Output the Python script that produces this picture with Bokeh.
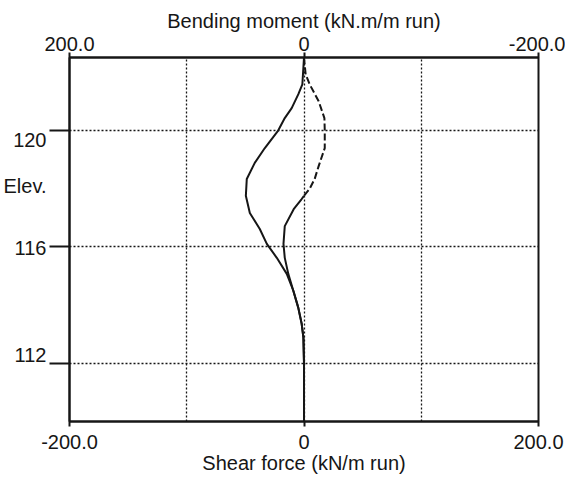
from bokeh.plotting import figure
from bokeh.models import Range1d, LinearAxis, FixedTicker
from bokeh.embed import file_html
from bokeh.resources import INLINE

# Bending moment along the wall (kN.m/m run) against elevation (m)
bm_elev = [122.5, 121.58, 121.24, 120.76, 120.42, 120.0, 119.39, 118.88, 118.33,
           117.75, 117.16, 116.61, 116.10, 115.62, 115.07, 114.49, 113.91, 113.36,
           112.88, 112.0, 110.0]
bm_vals = [0.0, 1.4, 4.8, 10.5, 16.4, 21.9, 33.4, 42.0, 48.8,
           49.6, 46.2, 37.7, 31.7, 23.2, 14.7, 9.1, 4.9, 2.0,
           0.5, 0.0, 0.0]

# Shear force along the wall (kN/m run) against elevation (m)
sf_elev = [122.5, 121.92, 121.58, 121.0, 120.42, 120.0, 119.39, 118.77, 118.33,
           117.99, 117.75, 117.64, 117.29, 116.71, 116.10, 115.62, 115.07, 114.49,
           113.91, 113.36, 112.88, 112.0, 110.0]
sf_vals = [0.0, 1.4, 4.8, 12.5, 17.4, 17.7, 17.7, 12.5, 9.1,
           4.8, 0.0, -2.0, -8.8, -16.4, -17.5, -16.4, -13.4, -9.1,
           -4.9, -2.0, -0.5, 0.0, 0.0]

sf_ticks = [-200, 0, 200]
sf_tick_labels = {-200: "-200.0", 0: "0", 200: "200.0"}
bm_ticks = [200, 0, -200]
bm_tick_labels = {200: "200.0", 0: "0", -200: "-200.0"}
elev_ticks = [120, 116, 112]
elev_title = "Elev."
elev_title_at = 118.1
grid_ticks = [-100, 0, 100]

FONT = "Liberation Sans"
FSIZE = "20px"
INK = "#161616"

Y0, Y1 = 110, 122.5
FRAME_H = 479 - 57 - 58

p = figure(width=565, height=479,
           x_range=Range1d(-200, 200), y_range=Range1d(Y0, Y1),
           output_backend="svg", toolbar_location=None,
           min_border_left=68, min_border_right=27,
           min_border_top=57, min_border_bottom=58)
p.background_fill_color = "white"
p.border_fill_color = "white"
p.outline_line_color = INK
p.outline_line_width = 2

# reversed range for the bending moment scale on top
p.extra_x_ranges = {"bm": Range1d(200, -200)}

# bottom axis: shear force
bottom = p.below[0]
bottom.ticker = FixedTicker(ticks=sf_ticks)
bottom.major_label_overrides = sf_tick_labels
bottom.axis_label = "Shear force (kN/m run)"

# top axis: bending moment
top = LinearAxis(x_range_name="bm", ticker=FixedTicker(ticks=bm_ticks),
                 major_label_overrides=bm_tick_labels,
                 axis_label="Bending moment (kN.m/m run)")
p.add_layout(top, "above")

# left axis: the tick marks are the minor ticks; labels sit on the major
# ticks, nudged a few pixels (positive = down) the way they are drawn
label_nudge_px = {120: 10, 116: 1, 112: -8}
m_per_px = (Y1 - Y0) / FRAME_H
label_pos = [t - label_nudge_px[t] * m_per_px for t in elev_ticks]
left = p.left[0]
left.ticker = FixedTicker(ticks=label_pos + [elev_title_at], minor_ticks=elev_ticks)
left.major_label_overrides = {pos: str(t) for pos, t in zip(label_pos, elev_ticks)}
left.major_label_overrides[elev_title_at] = elev_title
left.major_tick_line_color = None
left.major_tick_out = 0
left.major_tick_in = 0
left.minor_tick_out = 20
left.minor_tick_in = 0
left.minor_tick_line_color = INK
left.minor_tick_line_width = 2
left.major_label_standoff = 3
left.major_label_text_font_size = FSIZE

for ax in (bottom, top, left):
    ax.axis_line_color = INK
    ax.axis_line_width = 2
    ax.major_label_text_font = FONT
    ax.major_label_text_color = INK
for ax in (bottom, top):
    ax.major_tick_line_color = INK
    ax.major_tick_line_width = 2
    ax.major_tick_in = 0
    ax.major_tick_out = 5
    ax.minor_tick_line_color = None
    ax.major_label_text_font_size = FSIZE
    ax.axis_label_text_font = FONT
    ax.axis_label_text_font_size = FSIZE
    ax.axis_label_text_font_style = "normal"
    ax.axis_label_text_color = INK
bottom.major_label_standoff = 8
bottom.axis_label_standoff = 0
top.major_label_standoff = 2
top.axis_label_standoff = 2

p.xgrid.ticker = FixedTicker(ticks=grid_ticks)
p.ygrid.ticker = FixedTicker(ticks=elev_ticks)
for g in (p.xgrid, p.ygrid):
    g.grid_line_color = INK
    g.grid_line_width = 1.3
    g.grid_line_dash = "2 2"

# bending moment curve
p.line(bm_vals, bm_elev, x_range_name="bm", line_color=INK, line_width=2)

# shear force: dashed above the zero crossing, solid below it
i0 = next(i for i, v in enumerate(sf_vals) if v < 0)
p.line(sf_vals[:i0], sf_elev[:i0], line_color=INK, line_width=2, line_dash="7 3")
p.line(sf_vals[i0 - 1:], sf_elev[i0 - 1:], line_color=INK, line_width=2)

open("out.html", "w").write(file_html(p, INLINE))
